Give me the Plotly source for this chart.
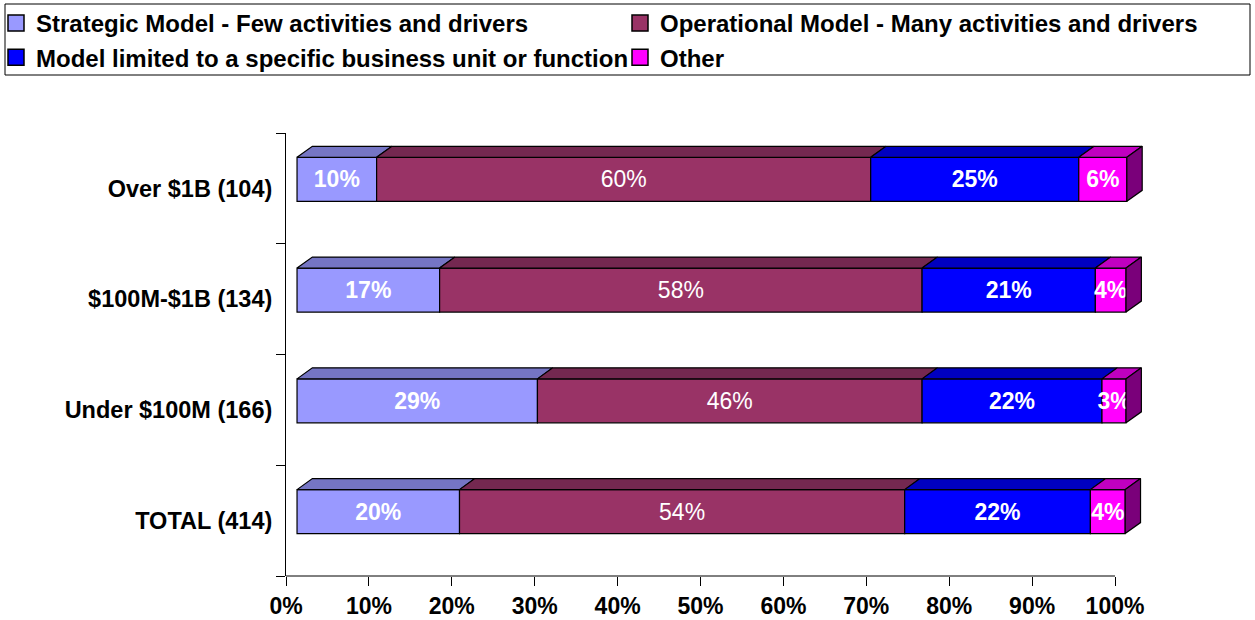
import plotly.graph_objects as go

# ---- data ----
categories = ["TOTAL (414)", "Under $100M (166)", "$100M-$1B (134)", "Over $1B (104)"]
series_names = [
    "Strategic Model - Few activities and drivers",
    "Operational Model - Many activities and drivers",
    "Model limited to a specific business unit or function",
    "Other",
]
strategic = [19.6, 29.0, 17.2, 9.6]
operational = [53.7, 46.4, 58.2, 59.6]
limited = [22.4, 21.7, 20.9, 25.1]
other = [4.2, 2.9, 3.7, 5.8]
x_ticks = [0, 10, 20, 30, 40, 50, 60, 70, 80, 90, 100]
x_tick_labels = [f"{v}%" for v in x_ticks]

# ---- style ----
FONT = "Liberation Sans, Arial, sans-serif"
front_colors = ["#9999FF", "#993366", "#0000FF", "#FF00FF"]
top_colors = ["#7575C4", "#742850", "#0000C0", "#C000C0"]
side_color = "#7A007A"
label_weights = ["bold", "normal", "bold", "bold"]
legend_ids = ["legend", "legend2", "legend", "legend2"]
front_shift = 1.33      # 3D front face offset (axis units)
dx, dy = 1.85, 0.0994   # depth of the 3D extrusion
bar_w, bar_off = 0.397, -0.117
EDGE = dict(color="black", width=1.2)

W, H = 1255, 620
plot_left, plot_right, plot_top, plot_bottom = 286, 1150, 133, 576
pw, ph = plot_right - plot_left, plot_bottom - plot_top
px_per_unit = 8.29


def px_x(p):
    return (p - plot_left) / pw


def px_y(p):
    return (plot_bottom - p) / ph


series = [strategic, operational, limited, other]

fig = go.Figure()

# cumulative bases
bases = []
run = [front_shift] * len(categories)
for vals in series:
    bases.append(list(run))
    run = [r + v for r, v in zip(run, vals)]
ends = run

for i, vals in enumerate(series):
    fig.add_trace(go.Bar(
        y=categories, x=vals, base=bases[i], orientation="h",
        width=bar_w, offset=bar_off,
        marker=dict(color=front_colors[i], line=EDGE),
        text=[f"{round(v)}%" for v in vals], texttemplate="%{text}",
        textposition="inside", insidetextanchor="middle", textangle=0,
        constraintext="none",
        insidetextfont=dict(family=FONT, size=23, color="white", weight=label_weights[i]),
        showlegend=False, hoverinfo="skip",
    ))

# 3D top faces (numeric overlay axis y2)
for i, vals in enumerate(series):
    xs, ys = [], []
    for r, (b, v) in enumerate(zip(bases[i], vals)):
        yt = r + bar_off + bar_w
        xs += [b, b + v, b + v + dx, b + dx, b, None]
        ys += [yt, yt, yt + dy, yt + dy, yt, None]
    fig.add_trace(go.Scatter(
        x=xs, y=ys, xaxis="x", yaxis="y2", mode="lines", fill="toself",
        fillcolor=top_colors[i], line=EDGE, showlegend=False, hoverinfo="skip",
    ))

# 3D right side faces
xs, ys = [], []
for r, e in enumerate(ends):
    yb = r + bar_off
    yt = yb + bar_w
    xs += [e, e, e + dx, e + dx, e, None]
    ys += [yb, yt, yt + dy, yb + dy, yb, None]
fig.add_trace(go.Scatter(
    x=xs, y=ys, xaxis="x", yaxis="y2", mode="lines", fill="toself",
    fillcolor=side_color, line=EDGE, showlegend=False, hoverinfo="skip",
))

# legend entries (two columns = two legends)
for i, name in enumerate(series_names):
    fig.add_trace(go.Scatter(
        x=[None], y=[None], xaxis="x", yaxis="y2", mode="markers", name=name,
        legend=legend_ids[i],
        marker=dict(symbol="square", size=16, color=front_colors[i],
                    line=dict(color="black", width=1.5)),
    ))

legend_font = dict(family=FONT, size=24, color="black", weight="bold")
legend_common = dict(orientation="v", xanchor="left", yanchor="top",
                     borderwidth=0, bgcolor="rgba(0,0,0,0)", font=legend_font,
                     traceorder="normal")

fig.update_layout(
    width=W, height=H,
    margin=dict(l=plot_left, r=W - plot_right, t=plot_top, b=H - plot_bottom,
                autoexpand=False),
    paper_bgcolor="white", plot_bgcolor="white",
    barmode="overlay",
    font=dict(family=FONT, color="black"),
    xaxis=dict(
        range=[0, pw / px_per_unit],
        tickvals=x_ticks, ticktext=x_tick_labels,
        ticks="outside", ticklen=9, tickcolor="black", tickwidth=1,
        showgrid=False, zeroline=False, showline=False, automargin=False,
        tickfont=dict(family=FONT, size=23, color="black", weight="bold"),
    ),
    yaxis=dict(
        type="category", categoryorder="array", categoryarray=categories,
        range=[-0.5, 3.5], tickson="boundaries",
        ticks="outside", ticklen=9, tickcolor="black", tickwidth=1,
        showline=True, linecolor="black", linewidth=1,
        showgrid=False, zeroline=False, automargin=False,
        ticklabelstandoff=8,
        tickfont=dict(family=FONT, size=23.5, color="black", weight="bold"),
    ),
    yaxis2=dict(overlaying="y", anchor="x", range=[-0.5, 3.5], visible=False),
    legend=dict(x=px_x(-4), y=px_y(1), **legend_common),
    legend2=dict(x=px_x(620), y=px_y(1), **legend_common),
    shapes=[
        dict(type="line", xref="x", yref="paper", x0=0, x1=100, y0=0, y1=0,
             line=dict(color="black", width=1)),
        dict(type="rect", xref="paper", yref="paper",
             x0=px_x(5), x1=px_x(1250), y0=px_y(75), y1=px_y(4),
             line=dict(color="black", width=1), fillcolor="rgba(0,0,0,0)"),
    ],
)

fig.write_html("out.html", config={"displayModeBar": False},
               post_script="document.body.style.margin='0px';")
